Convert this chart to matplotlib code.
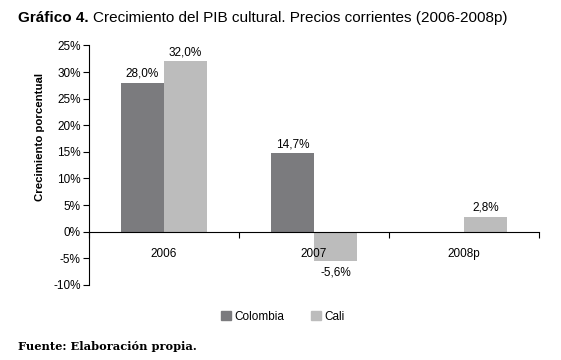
import numpy as np
import matplotlib
matplotlib.use("Agg")
import matplotlib.pyplot as plt
from matplotlib.patches import Patch

categories = ["2006", "2007", "2008p"]
colombia = [28.0, 14.7, np.nan]
cali = [32.0, -5.6, 2.8]
ytick_values = [-10, -5, 0, 5, 10, 15, 20, 25, 30, 35]
ytick_labels = ["-10%", "-5%", "0%", "5%", "10%", "15%", "20%", "25%", "30%", "25%"]

sans = ["Liberation Sans", "DejaVu Sans"]
plt.rcParams["font.family"] = sans

c_col = "#7b7b7e"
c_cali = "#bcbcbc"
fs = 8.5

fig = plt.figure(figsize=(5.61, 3.6), dpi=100)
ax = fig.add_axes([89/561, 1-284.8/360, 450/561, (284.8-45.5)/360])

x = np.arange(len(categories))
w = 0.287
for i, v in enumerate(colombia):
    if not np.isnan(v):
        ax.bar(x[i] - w/2, v, w, color=c_col, zorder=2)
        ax.text(x[i] - w/2, v + 0.6, f"{v:.1f}%".replace(".", ","), ha="center", va="bottom", fontsize=fs)
for i, v in enumerate(cali):
    ax.bar(x[i] + w/2, v, w, color=c_cali, zorder=2)
    if v >= 0:
        ax.text(x[i] + w/2, v + 0.6, f"{v:.1f}%".replace(".", ","), ha="center", va="bottom", fontsize=fs)
    else:
        ax.text(x[i] + w/2, v - 1.0, f"{v:.1f}%".replace(".", ","), ha="center", va="top", fontsize=fs)

ax.set_xlim(-0.5, len(categories) - 0.5)
ax.set_ylim(-10, 35)
ax.set_yticks(ytick_values)
ax.set_yticklabels(ytick_labels, fontsize=fs)
ax.tick_params(axis="y", direction="out", length=4, width=0.8, pad=2)

ax.spines["top"].set_visible(False)
ax.spines["right"].set_visible(False)
ax.spines["bottom"].set_position(("data", 0))
ax.spines["bottom"].set_zorder(3)
ax.spines["left"].set_linewidth(0.8)
ax.spines["bottom"].set_linewidth(0.8)

ax.set_xticks(np.arange(len(categories) + 1) - 0.5)
ax.set_xticklabels([])
ax.tick_params(axis="x", which="major", direction="out", length=4, width=0.8)

for i, c in enumerate(categories):
    ax.text(x[i], -4.3, c, ha="center", va="center", fontsize=fs, zorder=5)

fig.text(40/561, 1-137/360, "Crecimiento porcentual", rotation=90, ha="center", va="center",
         fontsize=8.2, fontweight="bold")

handles = [Patch(color=c_col, label="Colombia"), Patch(color=c_cali, label="Cali")]
fig.legend(handles=handles, loc="center", bbox_to_anchor=(283/561, 1-317/360), ncol=2,
           frameon=False, fontsize=fs, handlelength=0.8, handleheight=0.8, handletextpad=0.3,
           columnspacing=2.3)

t1 = fig.text(18/561, 1-18/360, "Gráfico 4.", fontsize=11, fontweight="bold",
              ha="left", va="center")
fig.canvas.draw()
bb = t1.get_window_extent(renderer=fig.canvas.get_renderer())
fig.text((bb.x1 + 4)/561, 1-18/360, "Crecimiento del PIB cultural. Precios corrientes (2006-2008p)",
         fontsize=11, ha="left", va="center")

fig.text(18/561, 1-347/360, "Fuente: Elaboración propia.", fontsize=8.2, fontweight="bold",
         family=["DejaVu Serif"], ha="left", va="center")

fig.savefig("out.png", dpi=100)
